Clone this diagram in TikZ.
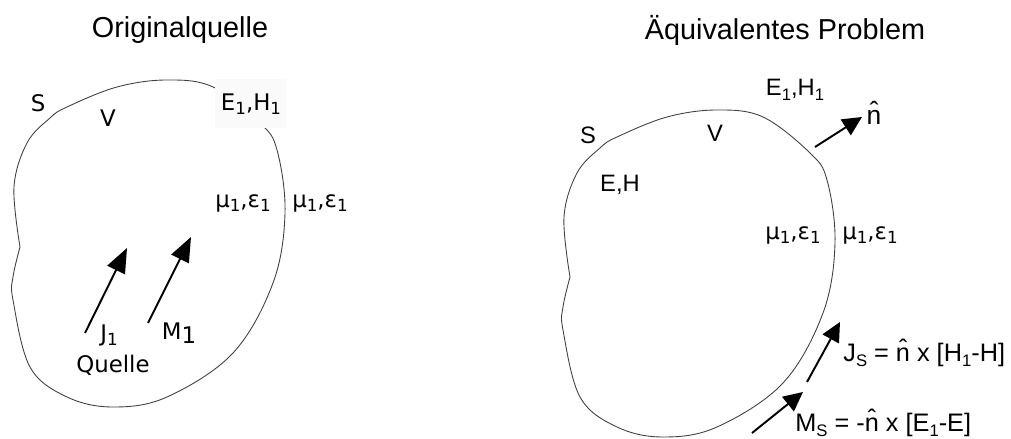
\documentclass[tikz,border=0pt]{standalone}
\usepackage{fontspec}
\setmainfont{Liberation Sans}
\newfontfamily\dejavu{DejaVu Sans}
\usetikzlibrary{arrows.meta}
\newcommand{\tief}[1]{\raisebox{-0.35ex}{\fontsize{9.5}{10}\selectfont #1}}

\begin{document}
\begin{tikzpicture}[
    x=0.02cm, y=0.02cm,
    umriss/.style={draw=black!75, line width=0.5pt},
    pfeil/.style={line width=1.1pt, -{Triangle[length=14pt,width=11pt]}},
    pfeilR/.style={line width=1.1pt, -{Triangle[length=11pt,width=10.5pt]}},
    titel/.style={font=\fontsize{16.4}{18}\selectfont},
    lbl/.style={font=\fontsize{13.5}{15}\selectfont, inner sep=0pt},
    formel/.style={font=\fontsize{14.4}{16}\selectfont, inner sep=0pt, anchor=west},
    dvlbl/.style={font=\dejavu\fontsize{13}{15}\selectfont, inner sep=0pt}
]
\useasboundingbox (0,0) rectangle (1011,439);

% both surfaces S
\foreach \dx/\dy in {0/0, 550/-30}
  \draw[umriss, shift={(\dx,\dy)}] plot[smooth, tension=0.6] coordinates {
    (20,192) (14,252) (27,296) (50,321) (67,332) (117,352) (167,359)
    (213,352) (260,316) (277,289) (285,226) (273,156) (233,86) (167,42)
    (113,32) (67,42) (30,72) (13,139) (13,162) (20,192)};

% original source
\node[titel] (titelL) at (180,409) {Originalquelle};
\node[dvlbl] (sL) at (38,336) {S};
\node[dvlbl] (vL) at (108,321) {V};
\node[dvlbl, fill=black!2, minimum width=1.46cm, minimum height=0.98cm] (ehL) at (251,335) {E\tief{1},H\tief{1}};
\node[dvlbl] (muinL) at (243,236) {µ\tief{1},ε\tief{1}};
\node[dvlbl] (muoutL) at (320,236) {µ\tief{1},ε\tief{1}};

\coordinate (j0) at (85,106);
\coordinate (j1) at (127,191);
\coordinate (m0) at (148,116);
\coordinate (m1) at (191,202);
\draw[pfeil] (j0) -- (j1);
\draw[pfeil] (m0) -- (m1);

\node[dvlbl] (jL) at (109,104) {J\tief{1}};
\node[dvlbl] (mL) at (179,106) {M\raisebox{-0.3ex}{1}};
\node[dvlbl] (quelle) at (113,74) {Quelle};

% equivalent problem
\node[titel] (titelR) at (785,409) {Äquivalentes Problem};
\node[lbl] (ehR) at (795,349) {E\tief{1},H\tief{1}};
\node[lbl] (sR) at (588,304) {S};
\node[lbl] (vR) at (715,306) {V};
\node[lbl] (eh) at (620,254) {E,H};
\node[dvlbl] (muinR) at (793,204) {µ\tief{1},ε\tief{1}};
\node[dvlbl] (muoutR) at (870,204) {µ\tief{1},ε\tief{1}};

\coordinate (n0) at (815,292);
\coordinate (n1) at (862,322);
\draw[pfeilR] (n0) -- (n1);
\node[font=\fontsize{15}{16}\selectfont, inner sep=0pt] (nhat) at (874,326) {\^n};

\coordinate (js0) at (807,57);
\coordinate (js1) at (840,117);
\coordinate (ms0) at (752,6);
\coordinate (ms1) at (803,47);
\draw[pfeilR] (js0) -- (js1);
\draw[pfeilR] (ms0) -- (ms1);

\node[formel] (jsL) at (843,86) {J\tief{S} = \^n x [H\tief{1}-H]};
\node[formel] (msL) at (795,16) {M\tief{S} = -\^n x [E\tief{1}-E]};

\end{tikzpicture}
\end{document}
